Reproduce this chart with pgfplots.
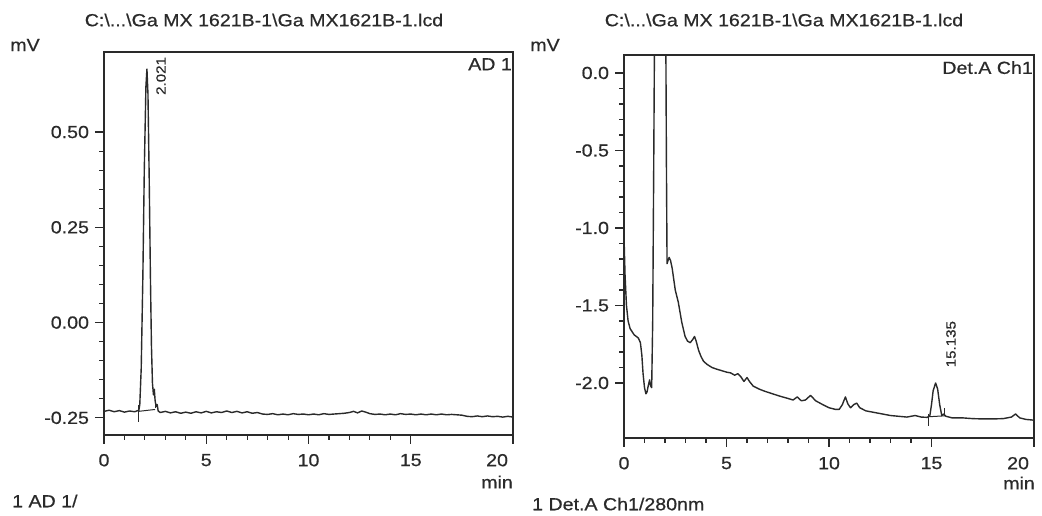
\documentclass[border=0pt]{standalone}
\usepackage{fontspec}
\setmainfont[FakeStretch=1.12, FakeBold=0.6]{Liberation Sans}
\usepackage{pgfplots}
\pgfplotsset{compat=1.18}
\definecolor{ink}{HTML}{2A2A2A}
\begin{document}
\fontsize{17.5}{20}\selectfont
\begin{tikzpicture}
\path[use as bounding box] (0,0) rectangle (1042pt,516pt);
\pgfplotsset{chrom/.style={
  scale only axis, height=383pt,
  xmin=0, xmax=20, xtick={0,5,10,15}, minor x tick num=4,
  extra x ticks={20}, extra x tick labels={20},
  extra x tick style={xticklabel style={anchor=north east, xshift=1pt}},
  minor y tick num=4,
  tick align=outside, xtick pos=bottom, ytick pos=left,
  major tick length=9pt, minor tick length=5pt,
  axis line style={ink, line width=1.2pt},
  every tick/.style={ink, line width=1.1pt},
  tick label style={font=\fontsize{17.5}{20}\selectfont, text=ink},
  xticklabel style={yshift=-4pt},
  /pgf/number format/assume math mode=true,
}}
\tikzset{trace/.style={ink, line width=1.4pt, line join=round, mark=none},
         intg/.style={ink, line width=1pt, mark=none}}
% ---------------- left panel ----------------
\begin{axis}[chrom, at={(104pt,81pt)}, anchor=south west, width=409pt,
  ymin=-0.295, ymax=0.71, ytick={-0.25,0,0.25,0.5},
  yticklabels={-0.25,0.00,0.25,0.50}]
\addplot[trace] coordinates {
(0,-0.233)(0.25,-0.230)(0.5,-0.234)(0.75,-0.231)(1.0,-0.235)(1.25,-0.232)(1.5,-0.234)(1.65,-0.231)
(1.70,-0.232)(1.75,-0.215)(1.82,-0.12)(1.90,0.12)(1.97,0.40)(2.05,0.62)(2.10,0.665)(2.15,0.60)
(2.21,0.38)(2.27,0.12)(2.32,-0.06)(2.37,-0.16)(2.42,-0.19)(2.46,-0.175)(2.50,-0.205)(2.55,-0.22)
(2.6,-0.215)(2.65,-0.232)(2.75,-0.236)(3.0,-0.233)(3.25,-0.237)(3.5,-0.234)(3.75,-0.238)(4.0,-0.235)
(4.25,-0.238)(4.5,-0.234)(4.75,-0.237)(5.0,-0.233)(5.25,-0.237)(5.5,-0.234)(5.75,-0.236)(6.0,-0.232)
(6.25,-0.236)(6.5,-0.233)(6.75,-0.237)(7.0,-0.234)(7.25,-0.238)(7.5,-0.236)(7.75,-0.240)(8.0,-0.241)
(8.25,-0.239)(8.5,-0.242)(8.75,-0.240)(9.0,-0.242)(9.25,-0.239)(9.5,-0.241)(9.75,-0.240)(10.0,-0.242)
(10.25,-0.240)(10.5,-0.242)(10.75,-0.239)(11.0,-0.241)(11.25,-0.240)(11.5,-0.239)(11.75,-0.238)(12.0,-0.236)
(12.2,-0.233)(12.4,-0.237)(12.6,-0.232)(12.8,-0.235)(13.0,-0.239)(13.25,-0.241)(13.5,-0.240)(13.75,-0.242)
(14.0,-0.240)(14.25,-0.242)(14.5,-0.239)(14.75,-0.241)(15.0,-0.240)(15.25,-0.242)(15.5,-0.240)(15.75,-0.242)
(16.0,-0.240)(16.25,-0.242)(16.5,-0.240)(16.75,-0.242)(17.0,-0.241)(17.25,-0.242)(17.5,-0.243)(17.75,-0.246)
(18.0,-0.247)(18.25,-0.245)(18.5,-0.247)(18.75,-0.245)(19.0,-0.247)(19.25,-0.246)(19.5,-0.248)(19.75,-0.246)(20.0,-0.248)
};
\addplot[intg] coordinates {(1.68,-0.233)(2.5,-0.228)};
\addplot[intg] coordinates {(1.68,-0.215)(1.68,-0.262)};
\addplot[intg] coordinates {(2.5,-0.205)(2.5,-0.225)};
\node[anchor=west, rotate=90, font=\fontsize{13.5}{16}\selectfont, text=ink, inner sep=0pt]
  at (axis cs:2.79,0.597) {2.021};
\node[anchor=north east, text=ink, inner sep=1pt] at (rel axis cs:1,1) [yshift=-5pt] {AD 1};
\end{axis}
% ---------------- right panel ----------------
\begin{axis}[chrom, at={(624pt,78pt)}, anchor=south west, width=410pt,
  ymin=-2.355, ymax=0.116, ytick={-2,-1.5,-1,-0.5,0},
  yticklabels={-2.0,-1.5,-1.0,-0.5,0.0}]
\addplot[trace] coordinates {
(0.0,-1.05)(0.05,-1.30)(0.12,-1.50)(0.2,-1.60)(0.3,-1.65)(0.4,-1.67)(0.5,-1.69)(0.6,-1.70)(0.7,-1.71)
(0.8,-1.74)(0.87,-1.82)(0.93,-1.94)(1.0,-2.03)(1.07,-2.07)(1.12,-2.06)(1.18,-2.02)(1.25,-1.98)(1.3,-2.02)
(1.35,-2.03)(1.40,-1.6)(1.45,-0.6)(1.50,0.5)(1.6,3)(1.9,3)(2.03,0.5)(2.07,-0.6)(2.1,-1.23)
(2.2,-1.19)(2.27,-1.21)(2.35,-1.26)(2.5,-1.40)(2.65,-1.48)(2.82,-1.61)(2.98,-1.70)(3.1,-1.73)(3.23,-1.74)
(3.35,-1.72)(3.44,-1.70)(3.52,-1.73)(3.64,-1.79)(3.76,-1.83)(3.88,-1.86)(4.05,-1.88)(4.29,-1.90)(4.5,-1.91)
(4.75,-1.92)(5.0,-1.93)(5.2,-1.935)(5.4,-1.95)(5.55,-1.94)(5.7,-1.96)(5.85,-1.99)(6.0,-1.965)(6.12,-1.99)
(6.3,-2.02)(6.6,-2.04)(6.9,-2.055)(7.25,-2.07)(7.6,-2.085)(8.0,-2.10)(8.25,-2.11)(8.45,-2.09)(8.65,-2.115)
(8.85,-2.11)(9.1,-2.08)(9.35,-2.115)(9.7,-2.14)(10.0,-2.16)(10.3,-2.17)(10.5,-2.17)(10.65,-2.14)(10.8,-2.09)
(10.92,-2.135)(11.05,-2.16)(11.2,-2.14)(11.35,-2.13)(11.5,-2.16)(11.8,-2.18)(12.2,-2.19)(12.6,-2.20)(13.0,-2.21)
(13.4,-2.215)(13.8,-2.22)(14.2,-2.21)(14.5,-2.22)(14.8,-2.222)(14.92,-2.21)(15.0,-2.14)(15.08,-2.05)(15.2,-2.0)
(15.3,-2.04)(15.4,-2.14)(15.5,-2.21)(15.6,-2.20)(15.7,-2.215)(16.0,-2.225)(16.5,-2.225)(17.0,-2.23)(17.5,-2.232)
(18.0,-2.232)(18.5,-2.23)(18.9,-2.22)(19.1,-2.20)(19.3,-2.225)(19.6,-2.235)(20.0,-2.24)
};
\addplot[intg] coordinates {(14.85,-2.218)(15.65,-2.212)};
\addplot[intg] coordinates {(14.85,-2.20)(14.85,-2.28)};
\addplot[intg] coordinates {(15.65,-2.16)(15.65,-2.21)};
\node[anchor=west, rotate=90, font=\fontsize{13.5}{16}\selectfont, text=ink, inner sep=0pt]
  at (axis cs:15.95,-1.90) {15.135};
\node[anchor=north east, text=ink, inner sep=1pt] at (rel axis cs:1,1) [yshift=-5pt] {Det.A Ch1};
\end{axis}
% ---------------- annotations ----------------
\node[text=ink] at (264pt,496pt) {C:\textbackslash...\textbackslash Ga MX 1621B-1\textbackslash Ga MX1621B-1.lcd};
\node[text=ink] at (784pt,496pt) {C:\textbackslash...\textbackslash Ga MX 1621B-1\textbackslash Ga MX1621B-1.lcd};
\node[text=ink] at (25pt,471pt) {mV};
\node[text=ink] at (545pt,471pt) {mV};
\node[text=ink] at (497pt,34pt) {min};
\node[text=ink] at (1019pt,33pt) {min};
\node[text=ink, anchor=west, inner sep=0pt] at (12pt,15pt) {1 AD 1/};
\node[text=ink, anchor=west, inner sep=0pt] at (532pt,12pt) {1 Det.A Ch1/280nm};
\end{tikzpicture}
\end{document}
